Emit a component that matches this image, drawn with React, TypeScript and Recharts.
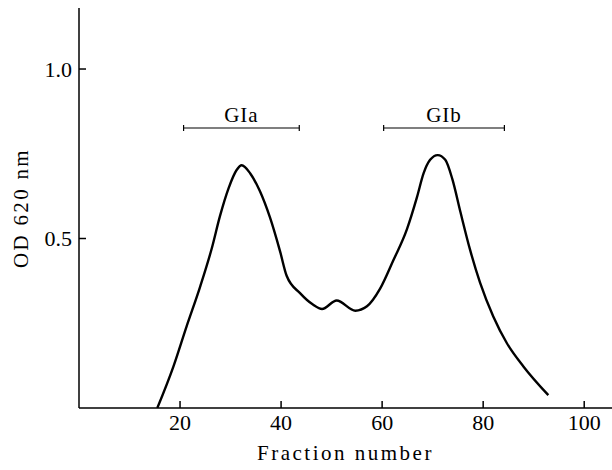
import { LineChart, Line, XAxis, YAxis, ReferenceLine } from "recharts";

// fraction number vs OD at 620 nm
const fractions = [
  15.5, 18.7, 21.3, 24.0, 26.3, 27.9, 29.6, 31.2, 32.2, 33.9, 35.8, 37.8, 39.8,
  41.1, 43.8, 46.3, 48.1, 51.0, 54.7, 57.0, 59.6, 62.2, 64.9, 66.9, 68.2, 69.5,
  71.0, 72.5, 73.9, 75.5, 77.4, 79.4, 82.0, 84.7, 88.0, 92.9,
];
const odValues = [
  0.0, 0.123, 0.241, 0.359, 0.472, 0.566, 0.648, 0.702, 0.716, 0.692, 0.64, 0.562, 0.462,
  0.39, 0.338, 0.305, 0.292, 0.317, 0.287, 0.3, 0.352, 0.435, 0.527, 0.622, 0.692, 0.732,
  0.746, 0.732, 0.675, 0.578, 0.467, 0.369, 0.27, 0.191, 0.122, 0.038,
];

const xTicks = [20, 40, 60, 80, 100];
const yTicks = [0.5, 1.0];

const poolNames = ["GIa", "GIb"];
const poolStarts = [20.7, 60.3];
const poolEnds = [43.6, 84.2];
const poolLevel = 0.826;

const data = fractions.map((f, i) => ({ fraction: f, od: odValues[i] }));

const FONT = "'Liberation Serif', 'DejaVu Serif', serif";

function bracketShape(name: string) {
  return (props: any) => {
    const { x1, y1, x2, y2 } = props;
    const mid = (x1 + x2) / 2;
    return (
      <g>
        <line x1={x1} y1={y1} x2={x2} y2={y2} stroke="#000" strokeWidth={1.2} />
        <line x1={x1} y1={y1 - 3} x2={x1} y2={y1 + 3} stroke="#000" strokeWidth={1.2} />
        <line x1={x2} y1={y2 - 3} x2={x2} y2={y2 + 3} stroke="#000" strokeWidth={1.2} />
        <text
          x={mid}
          y={y1 - 6}
          textAnchor="middle"
          fontFamily={FONT}
          fontSize={21}
          letterSpacing={1}
          fill="#000"
        >
          {name}
        </text>
      </g>
    );
  };
}

export default function App() {
  return (
    <div style={{ position: "absolute", left: 0, top: 0, background: "#fff" }}>
      <LineChart
        width={612}
        height={470}
        data={data}
        margin={{ top: 8, right: 0, bottom: 0, left: 0 }}
      >
        <XAxis
          type="number"
          dataKey="fraction"
          domain={[0, 105.5]}
          ticks={xTicks}
          allowDataOverflow
          height={62}
          stroke="#000"
          strokeWidth={1.5}
          tickSize={-7}
          tickMargin={13}
          tick={{ fill: "#000", fontSize: 22, fontFamily: FONT }}
          label={{
            value: "Fraction number",
            position: "insideBottom",
            offset: 10,
            fill: "#000",
            fontSize: 21,
            fontFamily: FONT,
            letterSpacing: 2.5,
          }}
        />
        <YAxis
          type="number"
          domain={[0, 1.18]}
          ticks={yTicks}
          allowDataOverflow
          width={79}
          stroke="#000"
          strokeWidth={1.5}
          tickSize={-7}
          tickMargin={14}
          tickFormatter={(v: number) => v.toFixed(1)}
          tick={{ fill: "#000", fontSize: 22, fontFamily: FONT }}
          label={{
            content: () => (
              <text
                x={21}
                y={208}
                transform="rotate(-90 21 208)"
                textAnchor="middle"
                dominantBaseline="central"
                fontFamily={FONT}
                fontSize={21}
                letterSpacing={2.3}
                fill="#000"
              >
                OD 620 nm
              </text>
            ),
          }}
        />
        {poolNames.map((name, i) => (
          <ReferenceLine
            key={name}
            segment={[
              { x: poolStarts[i], y: poolLevel },
              { x: poolEnds[i], y: poolLevel },
            ]}
            shape={bracketShape(name)}
          />
        ))}
        <Line
          type="monotone"
          dataKey="od"
          stroke="#000"
          strokeWidth={2.4}
          dot={false}
          isAnimationActive={false}
        />
      </LineChart>
    </div>
  );
}
